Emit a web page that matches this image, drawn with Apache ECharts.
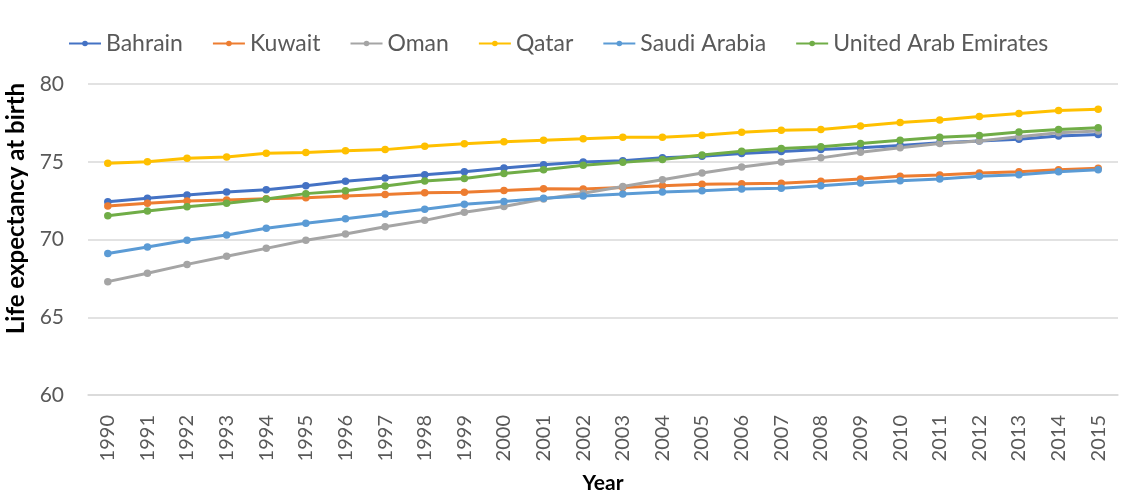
<!DOCTYPE html>
<html>
<head>
<meta charset="utf-8">
<script src="https://cdn.jsdelivr.net/npm/echarts@6/dist/echarts.min.js"></script>
<style>
  html, body { margin: 0; padding: 0; background: #fff; }
</style>
</head>
<body>
<div id="main" style="width: 1126px;height: 495px;"></div>
<script>
// years on the x axis
var years = ['1990', '1991', '1992', '1993', '1994', '1995', '1996', '1997', '1998', '1999',
  '2000', '2001', '2002', '2003', '2004', '2005', '2006', '2007', '2008', '2009',
  '2010', '2011', '2012', '2013', '2014', '2015']

// life expectancy
var bahrain = [72.43, 72.65, 72.86, 73.05, 73.2, 73.46, 73.74, 73.95, 74.17, 74.36,
  74.6, 74.8, 74.99, 75.07, 75.25, 75.35, 75.53, 75.66, 75.79, 75.9,
  76.05, 76.22, 76.33, 76.44, 76.65, 76.76]
var kuwait = [72.15, 72.33, 72.48, 72.54, 72.62, 72.69, 72.8, 72.9, 73.0, 73.04,
  73.15, 73.26, 73.25, 73.35, 73.45, 73.56, 73.58, 73.62, 73.75, 73.89,
  74.06, 74.15, 74.28, 74.36, 74.49, 74.58]
var oman = [67.29, 67.83, 68.4, 68.92, 69.43, 69.95, 70.35, 70.82, 71.23, 71.75,
  72.12, 72.61, 72.98, 73.41, 73.84, 74.28, 74.66, 74.99, 75.25, 75.61,
  75.9, 76.18, 76.33, 76.61, 76.87, 76.97]
var qatar = [74.9, 75.0, 75.22, 75.3, 75.54, 75.6, 75.7, 75.78, 76.0, 76.15,
  76.28, 76.39, 76.48, 76.58, 76.58, 76.7, 76.89, 77.02, 77.08, 77.3,
  77.52, 77.69, 77.91, 78.1, 78.29, 78.38]
var saudi = [69.1, 69.52, 69.95, 70.29, 70.72, 71.04, 71.34, 71.64, 71.94, 72.26,
  72.44, 72.66, 72.8, 72.92, 73.05, 73.13, 73.24, 73.3, 73.45, 73.63,
  73.78, 73.89, 74.06, 74.17, 74.36, 74.49]
var uae = [71.53, 71.83, 72.1, 72.33, 72.6, 72.95, 73.14, 73.44, 73.76, 73.93,
  74.25, 74.49, 74.77, 74.96, 75.15, 75.44, 75.68, 75.85, 75.96, 76.18,
  76.39, 76.58, 76.69, 76.91, 77.08, 77.19]

var yTicks = [60, 80, 5] // min, max, interval

var names = ['Bahrain', 'Kuwait', 'Oman', 'Qatar', 'Saudi Arabia', 'United Arab Emirates']
var colors = ['#4472C4', '#ED7D31', '#A5A5A5', '#FFC000', '#5B9BD5', '#70AD47']
var values = [bahrain, kuwait, oman, qatar, saudi, uae]

var font = 'Lato, "Open Sans", sans-serif'
var myChart = echarts.init(document.getElementById('main'))

var series = names.map(function (n, i) {
  return {
    name: n,
    type: 'line',
    data: values[i],
    symbol: 'circle',
    symbolSize: 7.5,
    lineStyle: { width: 3, color: colors[i] },
    itemStyle: { color: colors[i] },
    animation: false
  }
})

var option = {
  color: colors,
  textStyle: { fontFamily: font },
  legend: {
    data: names,
    left: 63,
    top: 27,
    itemWidth: 32,
    itemHeight: 7,
    itemGap: 29,
    textStyle: { fontSize: 23, color: '#595959', fontFamily: font }
  },
  grid: {
    left: 88,
    right: 8,
    top: 84,
    bottom: 100,
    outerBoundsMode: 'none'
  },
  xAxis: {
    type: 'category',
    boundaryGap: true,
    data: years,
    name: 'Year',
    nameLocation: 'middle',
    nameGap: 78,
    nameTextStyle: { fontSize: 21, fontWeight: 'bold', color: '#000', fontFamily: font },
    axisLine: { lineStyle: { color: '#d9d9d9', width: 1.5 } },
    axisTick: { show: false },
    axisLabel: { rotate: 90, fontSize: 20, color: '#595959', margin: 20, interval: 0, fontFamily: font }
  },
  yAxis: {
    type: 'value',
    min: yTicks[0],
    max: yTicks[1],
    interval: yTicks[2],
    name: 'Life expectancy at birth',
    nameLocation: 'middle',
    nameGap: 53,
    nameTextStyle: { fontSize: 24, fontWeight: 'bold', color: '#000', fontFamily: font, padding: [0, 0, 0, 62] },
    axisLine: { show: false },
    axisTick: { show: false },
    axisLabel: { fontSize: 21, color: '#595959', margin: 24, fontFamily: font },
    splitLine: { lineStyle: { color: '#d9d9d9', width: 1.5 } }
  },
  series: series
}
myChart.setOption(option)
</script>
</body>
</html>
